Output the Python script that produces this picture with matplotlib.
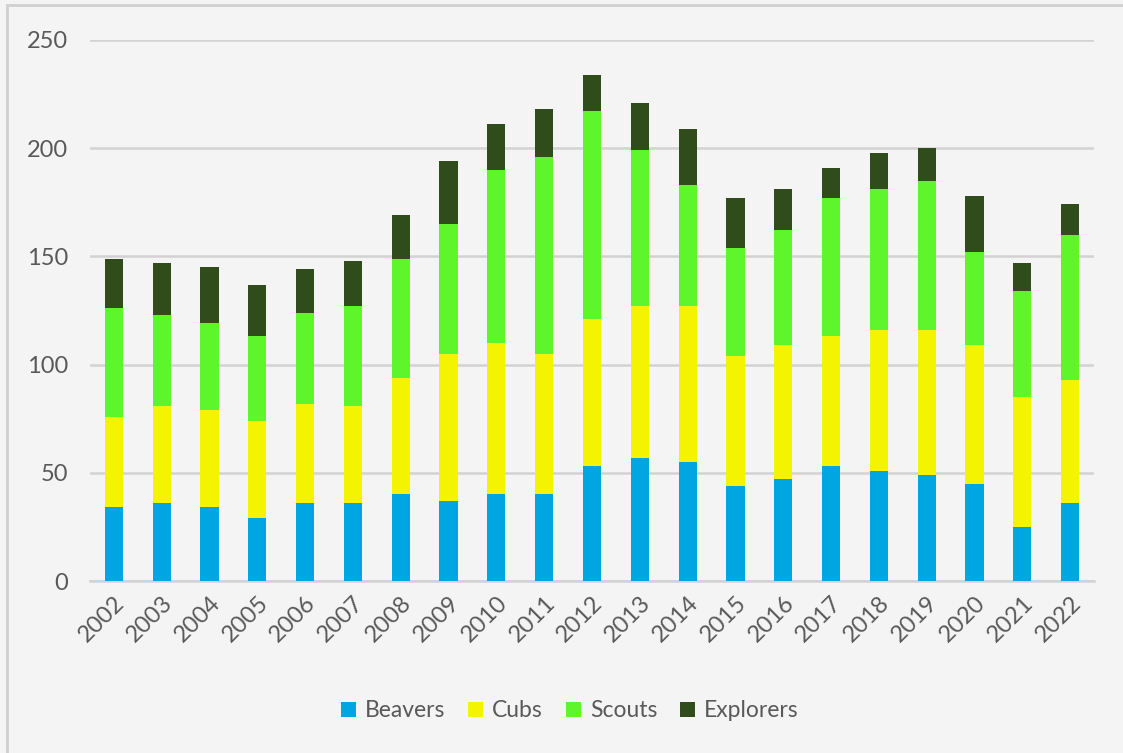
import matplotlib.pyplot as plt
import numpy as np
from matplotlib.patches import Rectangle

years = [str(y) for y in range(2002, 2023)]
beavers = [34, 36, 34, 29, 36, 36, 40, 37, 40, 40, 53, 57, 55, 44, 47, 53, 51, 49, 45, 25, 36]
cubs = [42, 45, 45, 45, 46, 45, 54, 68, 70, 65, 68, 70, 72, 60, 62, 60, 65, 67, 64, 60, 57]
scouts = [50, 42, 40, 39, 42, 46, 55, 60, 80, 91, 96, 72, 56, 50, 53, 64, 65, 69, 43, 49, 67]
explorers = [23, 24, 26, 24, 20, 21, 20, 29, 21, 22, 17, 22, 26, 23, 19, 14, 17, 15, 26, 13, 14]

series = [("Beavers", beavers, "#00a6e2"),
          ("Cubs", cubs, "#f4f400"),
          ("Scouts", scouts, "#5ef62b"),
          ("Explorers", explorers, "#2f4c1a")]

plt.rcParams['font.family'] = ['Lato', 'DejaVu Sans']
txt = "#595959"

fig = plt.figure(figsize=(11.23, 7.53), dpi=100)
fig.patch.set_facecolor("#f4f4f4")
fig.patches.append(Rectangle((7 / 1123, -0.1), 1.2, (753 - 5) / 753 + 0.1,
                             transform=fig.transFigure, fill=False,
                             edgecolor="#d0d0d0", linewidth=2))
ax = fig.add_axes([90 / 1123, 1 - 581 / 753, (1094 - 90) / 1123, (581 - 40) / 753])
ax.set_facecolor("#f4f4f4")

x = np.arange(len(years))
bottom = np.zeros(len(years))
for name, vals, col in series:
    ax.bar(x, vals, width=0.38, bottom=bottom, color=col, label=name, zorder=3)
    bottom += np.array(vals)

ax.set_xlim(-0.5, len(years) - 0.5)
ax.set_ylim(0, 250)
ax.set_yticks(range(0, 251, 50))
ax.yaxis.grid(True, color="#d2d2d2", linewidth=1.8, zorder=0)
ax.set_axisbelow(True)
for s in ["top", "right", "left"]:
    ax.spines[s].set_visible(False)
ax.spines["bottom"].set_color("#d2d2d2")
ax.spines["bottom"].set_linewidth(1.8)
ax.tick_params(axis="both", length=0, colors=txt, labelsize=17)
ax.tick_params(axis="y", pad=16)
ax.set_xticks(x)
ax.set_xticklabels(years, rotation=45, ha="right", rotation_mode="anchor")
ax.tick_params(axis="x", pad=8)

ax.legend(loc="center", bbox_to_anchor=(0.478, -0.24), ncol=4, frameon=False,
          fontsize=16.5, labelcolor=txt, handlelength=0.65, handleheight=0.65,
          handletextpad=0.4, columnspacing=1.0)

fig.savefig("out.png", dpi=100, facecolor=fig.get_facecolor())
